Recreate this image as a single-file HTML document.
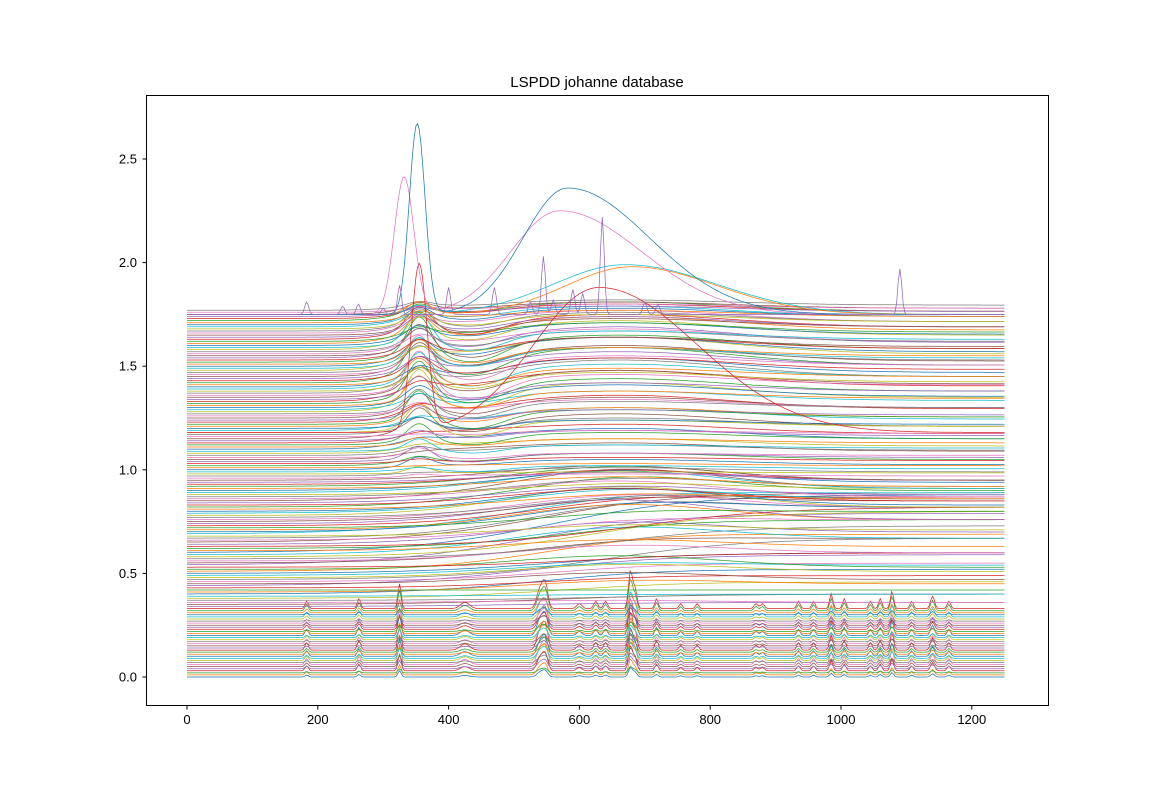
<!DOCTYPE html>
<html><head><meta charset="utf-8"><style>
body{margin:0;background:#fff;}
svg{display:block;font-family:"Liberation Sans",sans-serif;}
</style></head><body>
<svg id="chart" width="1166" height="792" viewBox="0 0 1166 792" xmlns="http://www.w3.org/2000/svg">
<rect width="1166" height="792" fill="#fff"/>
<text x="597" y="87" text-anchor="middle" font-size="15">LSPDD johanne database</text>
<g id="lines"></g>
<rect x="146.5" y="95.5" width="902" height="610" fill="none" stroke="#000" stroke-width="1"/>
<g id="axes"></g>
</svg>
<script>
const xTicks=[0,200,400,600,800,1000,1200];
const yTicks=[0,0.5,1.0,1.5,2.0,2.5];
const yTickLabels=["0.0","0.5","1.0","1.5","2.0","2.5"];
const rOff=[0.00,0.01,0.02,0.03,0.04,0.05,0.06,0.07,0.08,0.09,0.10,0.11,0.12,0.13,0.14,0.15,0.16,0.17,0.18,0.19,0.20,0.21,0.22,0.23,0.24,0.25,0.26,0.27,0.28,0.29,0.30,0.31,0.32,0.33];
const rAmp=[0.03,0.05,0.02,0.08,0.04,0.06,0.10,0.03,0.07,0.05,0.09,0.04,0.06,0.12,0.03,0.05,0.08,0.02,0.06,0.04,0.10,0.05,0.03,0.07,0.09,0.04,0.06,0.02,0.05,0.08,0.03,0.06,0.10,0.12];
const peakPos=[183,263,325,425,540,548,600,625,640,678,685,718,755,780,870,880,935,958,985,1005,1045,1060,1078,1108,1140,1165];
const peakHt=[0.3,0.4,1.0,0.25,0.8,0.9,0.2,0.3,0.3,1.5,0.8,0.4,0.2,0.2,0.2,0.2,0.3,0.3,0.6,0.4,0.3,0.4,0.7,0.3,0.5,0.3];
const peakW=[2.5,2.5,2.5,7,5,4,4,3,3,3,3,2.5,2.5,2.5,3,3,2.5,2.5,2.5,2.5,2.5,2.5,2.5,2.5,3,2.5];
const mOff=[0.34,0.35,0.36,0.37,0.38,0.39,0.40,0.41,0.42,0.43,0.44,0.45,0.46,0.47,0.48,0.49,0.50,0.51,0.52,0.53,0.54,0.55,0.56,0.57,0.58,0.59,0.60,0.61,0.62,0.63,0.64,0.65,0.66,0.67,0.68,0.69,0.70,0.71,0.72,0.73,0.74,0.75,0.76,0.77,0.78,0.79,0.80,0.81,0.82,0.83,0.84,0.85,0.86,0.87,0.88,0.89,0.90,0.91,0.92,0.93,0.94,0.95];
const mRise=[0.02,0.05,0.00,0.03,0.08,0.01,0.12,0.04,0.00,0.06,0.15,0.02,0.09,0.20,0.03,0.05,0.10,0.18,0.01,0.07,0.25,0.12,0.04,0.16,0.22,0.08,0.28,0.02,0.14,0.19,0.06,0.24,0.10,0.15,0.03,0.20,0.12,0.05,0.08,0.14,0.02,0.10,0.06,0.09,0.04,0.07,0.03,0.05,0.08,0.02,0.04,0.06,0.01,0.05,0.03,0.02,0.04,0.01,0.03,0.02,0.01,0.00];
const mHump=[0.00,0.00,0.01,0.00,0.02,0.00,0.01,0.03,0.00,0.02,0.00,0.04,0.01,0.00,0.05,0.02,0.00,0.03,0.06,0.01,0.00,0.02,0.05,0.00,0.03,0.07,0.00,0.04,0.02,0.00,0.06,0.01,0.03,0.08,0.04,0.02,0.05,0.09,0.03,0.06,0.10,0.04,0.08,0.05,0.12,0.06,0.09,0.04,0.10,0.07,0.05,0.11,0.08,0.06,0.04,0.09,0.07,0.05,0.08,0.06,0.04,0.07];
const hOff=[0.96,0.97,0.98,0.99,1.00,1.01,1.02,1.03,1.04,1.05,1.06,1.07,1.08,1.09,1.10,1.11,1.12,1.13,1.14,1.15,1.16,1.17,1.18,1.19,1.20,1.21,1.22,1.23,1.24,1.25,1.26,1.27,1.28,1.29,1.30,1.31,1.32,1.33,1.34,1.35,1.36,1.37,1.38,1.39,1.40,1.41,1.42,1.43,1.44,1.45,1.46,1.47,1.48,1.49,1.50,1.51,1.52,1.53,1.54,1.55,1.56,1.57,1.58,1.59,1.60,1.61,1.62,1.63,1.64,1.65,1.66,1.67,1.68,1.69,1.70,1.71,1.72,1.73,1.74,1.75,1.76,1.77];
const hPeak=[0.01,0.00,0.03,0.01,0.04,0.00,0.02,0.01,0.06,0.00,0.04,0.02,0.01,0.05,0.01,0.03,0.08,0.01,0.03,0.10,0.00,0.05,0.12,0.02,0.04,0.07,0.14,0.03,0.05,0.08,0.03,0.10,0.15,0.04,0.06,0.12,0.16,0.03,0.08,0.10,0.18,0.05,0.08,0.13,0.04,0.10,0.15,0.07,0.05,0.10,0.16,0.08,0.04,0.11,0.07,0.09,0.17,0.05,0.08,0.12,0.04,0.07,0.10,0.14,0.05,0.08,0.03,0.11,0.06,0.08,0.04,0.07,0.05,0.03,0.05,0.03,0.04,0.03,0.02,0.03,0.01,0.02];
const hHump=[0.02,0.04,0.01,0.03,0.05,0.02,0.06,0.03,0.04,0.08,0.02,0.05,0.07,0.03,0.10,0.04,0.06,0.09,0.05,0.12,0.03,0.08,0.06,0.11,0.04,0.09,0.07,0.13,0.05,0.10,0.08,0.06,0.14,0.09,0.11,0.07,0.12,0.15,0.08,0.13,0.10,0.16,0.09,0.12,0.14,0.08,0.17,0.11,0.13,0.15,0.09,0.12,0.16,0.10,0.14,0.08,0.13,0.11,0.15,0.09,0.12,0.10,0.14,0.08,0.11,0.13,0.09,0.12,0.10,0.08,0.11,0.09,0.07,0.10,0.08,0.06,0.09,0.07,0.05,0.06,0.04,0.05];
const hDip=[0.00,0.01,0.00,0.02,0.01,0.00,0.02,0.01,0.03,0.00,0.02,0.01,0.00,0.03,0.01,0.02,0.04,0.00,0.02,0.05,0.01,0.03,0.06,0.02,0.03,0.04,0.07,0.02,0.03,0.05,0.02,0.06,0.08,0.03,0.04,0.06,0.08,0.02,0.05,0.06,0.09,0.03,0.05,0.07,0.03,0.06,0.08,0.04,0.03,0.05,0.09,0.05,0.02,0.06,0.04,0.05,0.09,0.03,0.05,0.07,0.02,0.04,0.05,0.07,0.03,0.05,0.02,0.06,0.03,0.04,0.02,0.04,0.03,0.02,0.03,0.01,0.02,0.02,0.01,0.01,0.01,0.01];
// special spectra: [offset, peakCenter, peakAmp, peakWidth, humpCenter, humpAmp, humpWidthLeft, humpWidthRight, colorIndex]
const bigCyan=[1.75,355,0.04,18,670,0.24,110,140,9];
const bigOrange=[1.75,355,0.06,18,680,0.23,100,130,1];
const bigRed=[1.18,355,0.80,12,630,0.70,100,150,3];
const bigPink=[1.75,332,0.66,15,570,0.50,75,125,6];
const bigBlue=[1.75,352,0.92,12,582,0.61,68,125,0];
const spikyPos=[183,238,262,300,325,400,470,525,545,560,590,605,635,700,720,1090];
const spikyHt=[0.06,0.04,0.05,0.03,0.14,0.13,0.13,0.06,0.28,0.07,0.12,0.10,0.47,0.06,0.05,0.22];

const colors=["#1f77b4","#ff7f0e","#2ca02c","#d62728","#9467bd","#8c564b","#e377c2","#7f7f7f","#bcbd22","#17becf"];
const X=v=>187+v*0.654, Y=v=>677-v*207.2;
const g=(x,c,w)=>Math.exp(-0.5*((x-c)/w)**2);
const ag=(x,c,wl,wr)=>g(x,c,x<c?wl:wr);
const sig=(x,c,w)=>1/(1+Math.exp(-(x-c)/w));
const xs=[];for(let x=0;x<=1250;x+=2.5)xs.push(x);
const L=document.getElementById('lines');
let ci=0;
function draw(fn,name){
  let d='';xs.forEach((x,i)=>{d+=(i?'L':'M')+X(x).toFixed(1)+','+Y(fn(x)).toFixed(1);});
  const p=document.createElementNS('http://www.w3.org/2000/svg','path');
  p.setAttribute('d',d);p.setAttribute('fill','none');p.setAttribute('stroke',colors[ci++%10]);p.setAttribute('stroke-width','0.75');
  
  
  L.appendChild(p);
}
rOff.forEach((o,i)=>draw(x=>{let s=o;peakPos.forEach((c,k)=>{s+=rAmp[i]*peakHt[k]*g(x,c,peakW[k]);});return s;},'raman-spectrum'));
mOff.forEach((o,i)=>draw(x=>o+mRise[i]*sig(x,520+(i%5)*40,110)+mHump[i]*g(x,650,160),'rising-spectrum'));
hOff.forEach((o,i)=>draw(x=>o+hPeak[i]*g(x,355,18)-hDip[i]*g(x,440,45)+hHump[i]*sig(x,320,25)*(0.5+0.5*g(x,660,170)),'band-spectrum'));
[bigCyan,bigOrange,bigRed,bigPink,bigBlue].forEach(a=>{ci=a[8];draw(x=>a[0]+a[2]*g(x,a[1],a[3])+a[5]*ag(x,a[4],a[6],a[7]),'prominent-spectrum');});
ci=4;draw(x=>{let s=1.75;spikyPos.forEach((c,k)=>{s+=spikyHt[k]*g(x,c,3);});return s;},'spiky-spectrum');

const A=document.getElementById('axes');
xTicks.forEach(t=>{
  A.insertAdjacentHTML('beforeend',`<line x1="${X(t)}" x2="${X(t)}" y1="706" y2="709.5" stroke="#000"/><text x="${X(t)}" y="724" text-anchor="middle" font-size="13">${t}</text>`);
});
yTicks.forEach((t,i)=>{
  A.insertAdjacentHTML('beforeend',`<line x1="142.5" x2="146" y1="${Y(t)}" y2="${Y(t)}" stroke="#000"/><text x="137" y="${Y(t)+4.5}" text-anchor="end" font-size="13">${yTickLabels[i]}</text>`);
});
</script>
</body></html>
